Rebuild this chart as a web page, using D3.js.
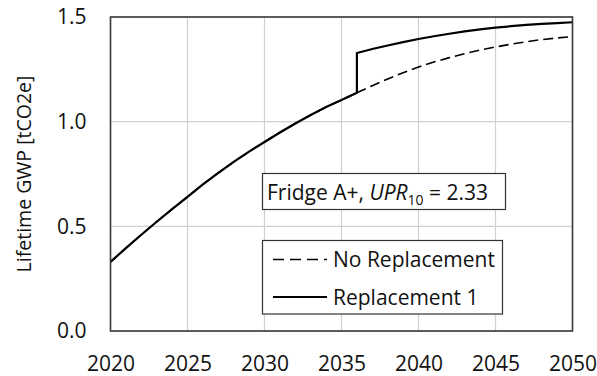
<!DOCTYPE html>
<html>
<head>
<meta charset="utf-8">
<script src="https://cdn.jsdelivr.net/npm/d3@7"></script>
<style>
  html, body { margin: 0; padding: 0; background: #fff; }
  svg { display: block; font-family: "Open Sans", "Noto Sans", sans-serif; }
</style>
</head>
<body>
<svg id="chart" width="597" height="376"></svg>
<script>
// Lifetime GWP of a fridge over time, without and with one replacement
const years = [2020, 2021, 2022, 2023, 2024, 2025, 2026, 2027, 2028, 2029, 2030,
               2031, 2032, 2033, 2034, 2035, 2036, 2037, 2038, 2039, 2040,
               2041, 2042, 2043, 2044, 2045, 2046, 2047, 2048, 2049, 2050];
const noReplacement = [0.330, 0.396, 0.460, 0.522, 0.582, 0.641, 0.700, 0.755, 0.808, 0.857, 0.903,
                       0.948, 0.991, 1.032, 1.070, 1.104, 1.138, 1.172, 1.204, 1.234, 1.261,
                       1.285, 1.306, 1.325, 1.342, 1.357, 1.370, 1.382, 1.392, 1.400, 1.406];
// Replacement 1 follows the base curve until the replacement year, then jumps
const replacementYear = 2036;
const replYears = [2036, 2037, 2038, 2039, 2040, 2041, 2042, 2043, 2044, 2045, 2046, 2047, 2048, 2049, 2050];
const replValues = [1.328, 1.347, 1.364, 1.380, 1.395, 1.408, 1.420, 1.431, 1.441, 1.449, 1.456, 1.462, 1.467, 1.471, 1.475];
const xTicks = [2020, 2025, 2030, 2035, 2040, 2045, 2050];
const yTicks = [0.0, 0.5, 1.0, 1.5];
const yTitle = "Lifetime GWP [tCO2e]";
const legendLabels = ["No Replacement", "Replacement 1"];

const svg = d3.select("#chart");
const m = { left: 110.5, top: 17, right: 572.5, bottom: 331 };
const x = d3.scaleLinear().domain([2020, 2050]).range([m.left, m.right]);
const y = d3.scaleLinear().domain([0, 1.5]).range([m.bottom, m.top]);
const font = 21;

// gridlines
const grid = svg.append("g");
grid.selectAll("line.v").data(xTicks).join("line")
  .attr("x1", d => x(d)).attr("x2", d => x(d))
  .attr("y1", m.top).attr("y2", m.bottom)
  .attr("stroke", "#d0d0d0").attr("stroke-width", 1.2);
grid.selectAll("line.h").data(yTicks).join("line")
  .attr("x1", m.left).attr("x2", m.right)
  .attr("y1", d => y(d)).attr("y2", d => y(d))
  .attr("stroke", "#d0d0d0").attr("stroke-width", 1.2);

// axes (labels only; frame drawn separately)
const xAxis = svg.append("g").attr("transform", `translate(0,${m.bottom})`)
  .call(d3.axisBottom(x).tickValues(xTicks).tickFormat(d3.format("d")).tickSize(0).tickPadding(25))
  .attr("font-family", null).attr("font-size", font);
xAxis.select(".domain").remove();
xAxis.selectAll("text").attr("fill", "#111");

const yAxis = svg.append("g").attr("transform", `translate(${m.left},0)`)
  .call(d3.axisLeft(y).tickValues(yTicks).tickFormat(d3.format(".1f")).tickSize(0).tickPadding(24))
  .attr("font-family", null).attr("font-size", font);
yAxis.select(".domain").remove();
yAxis.selectAll("text").attr("fill", "#111");

svg.append("text")
  .attr("transform", `translate(31,${(m.top + m.bottom) / 2}) rotate(-90)`)
  .attr("text-anchor", "middle")
  .attr("font-size", 19.5).attr("fill", "#111")
  .text(yTitle);

// series
const line = d3.line().x(d => x(d[0])).y(d => y(d[1]));
const basePts = years.map((yr, i) => [yr, noReplacement[i]]);
const replPts = basePts.filter(d => d[0] <= replacementYear)
  .concat(replYears.map((yr, i) => [yr, replValues[i]]));

svg.append("path").datum(basePts)
  .attr("d", line).attr("fill", "none")
  .attr("stroke", "#000").attr("stroke-width", 1.6)
  .attr("stroke-dasharray", "10,5");
svg.append("path").datum(replPts)
  .attr("d", line).attr("fill", "none")
  .attr("stroke", "#000").attr("stroke-width", 2.2)
  .attr("stroke-linejoin", "miter");

// plot frame
svg.append("rect")
  .attr("x", m.left).attr("y", m.top)
  .attr("width", m.right - m.left).attr("height", m.bottom - m.top)
  .attr("fill", "none").attr("stroke", "#3a3a3a").attr("stroke-width", 1.6);

// annotation box
const ann = svg.append("g");
ann.append("rect").attr("x", 262.5).attr("y", 173.5).attr("width", 243).attr("height", 36)
  .attr("fill", "#fff").attr("stroke", "#333").attr("stroke-width", 1.2);
const at = ann.append("text").attr("x", 267).attr("y", 199.5)
  .attr("font-size", font).attr("fill", "#111");
at.append("tspan").text("Fridge A+, ");
at.append("tspan").attr("font-style", "italic").text("UPR");
at.append("tspan").attr("font-size", 14).attr("dy", 5).text("10");
at.append("tspan").attr("dy", -5).text(" = 2.33");

// legend
const lg = svg.append("g");
lg.append("rect").attr("x", 262.5).attr("y", 240.5).attr("width", 240).attr("height", 73.5)
  .attr("fill", "#fff").attr("stroke", "#333").attr("stroke-width", 1.2);
const rows = [
  { label: legendLabels[0], dash: "11,6", w: 1.6, yy: 259.5 },
  { label: legendLabels[1], dash: null, w: 2.2, yy: 297 }
];
rows.forEach(r => {
  lg.append("line").attr("x1", 273).attr("x2", 327).attr("y1", r.yy).attr("y2", r.yy)
    .attr("stroke", "#000").attr("stroke-width", r.w)
    .attr("stroke-dasharray", r.dash);
  lg.append("text").attr("x", 333).attr("y", r.yy + 7.5)
    .attr("font-size", font).attr("fill", "#111").text(r.label);
});
</script>
</body>
</html>
